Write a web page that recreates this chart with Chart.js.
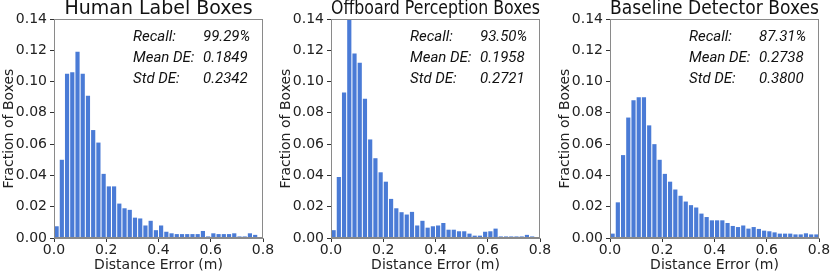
<!DOCTYPE html>
<html>
<head>
<meta charset="utf-8">
<script src="https://cdn.jsdelivr.net/npm/chart.js@4.4.0/dist/chart.umd.min.js"></script>
<style>
  html, body { margin: 0; padding: 0; background: #fff; }
  #wrap { position: relative; width: 831px; height: 275px; overflow: hidden; }
  .panel { position: absolute; top: 0; width: 277px; height: 275px; }
</style>
</head>
<body>
<div id="wrap">
  <div class="panel" style="left:0px"><canvas id="human" width="277" height="275"></canvas></div>
  <div class="panel" style="left:277px"><canvas id="offboard" width="277" height="275"></canvas></div>
  <div class="panel" style="left:556px"><canvas id="baseline" width="277" height="275"></canvas></div>
</div>
<script>
// histogram bin edges (m)
const binEdges = [0.00, 0.02, 0.04, 0.06, 0.08, 0.10, 0.12, 0.14, 0.16, 0.18,
  0.20, 0.22, 0.24, 0.26, 0.28, 0.30, 0.32, 0.34, 0.36, 0.38,
  0.40, 0.42, 0.44, 0.46, 0.48, 0.50, 0.52, 0.54, 0.56, 0.58,
  0.60, 0.62, 0.64, 0.66, 0.68, 0.70, 0.72, 0.74, 0.76, 0.78, 0.80];

const humanValues = [0.0075, 0.050, 0.105, 0.106, 0.119, 0.105, 0.091, 0.069, 0.061, 0.041,
  0.033, 0.033, 0.022, 0.019, 0.018, 0.013, 0.0125, 0.008, 0.011, 0.005,
  0.008, 0.004, 0.003, 0.0025, 0.0025, 0.0025, 0.0025, 0.0025, 0.0045, 0.001,
  0.003, 0.0025, 0.0025, 0.0025, 0.003, 0.001, 0.001, 0.003, 0.002, 0.0005];

const offboardValues = [0.005, 0.039, 0.093, 0.142, 0.118, 0.112, 0.089, 0.063, 0.051, 0.042,
  0.036, 0.025, 0.019, 0.0165, 0.015, 0.0167, 0.008, 0.011, 0.0066, 0.0075,
  0.008, 0.0096, 0.0053, 0.0053, 0.0043, 0.0043, 0.0028, 0.0015, 0.0015, 0.004,
  0.0043, 0.006, 0.001, 0.001, 0.001, 0.001, 0.001, 0.002, 0.001, 0.0005];

const baselineValues = [0.0028, 0.0228, 0.053, 0.077, 0.088, 0.090, 0.090, 0.072, 0.060, 0.050,
  0.041, 0.036, 0.031, 0.027, 0.0233, 0.021, 0.0195, 0.0156, 0.0134, 0.0113,
  0.0113, 0.0113, 0.0096, 0.0077, 0.007, 0.008, 0.006, 0.007, 0.0058, 0.0047,
  0.0043, 0.0036, 0.0028, 0.0028, 0.0028, 0.0023, 0.0023, 0.003, 0.0023, 0.0023];

const panelTitles = ['Human Label Boxes', 'Offboard Perception Boxes', 'Baseline Detector Boxes'];
const statLabels = ['Recall:', 'Mean DE:', 'Std DE:'];
const humanStats = ['99.29%', '0.1849', '0.2342'];
const offboardStats = ['93.50%', '0.1958', '0.2721'];
const baselineStats = ['87.31%', '0.2738', '0.3800'];

const xTicks = [0.0, 0.2, 0.4, 0.6, 0.8];
const yTicks = [0.00, 0.02, 0.04, 0.06, 0.08, 0.10, 0.12, 0.14];

const barColor = '#4a7bd6';
const frameColor = '#8a8a8a';

// box around plot + stats text block
const framePlugin = {
  id: 'frameAndStats',
  afterDatasetsDraw(chart, args, opts) {
    const { ctx, chartArea } = chart;
    ctx.save();
    ctx.strokeStyle = frameColor;
    ctx.lineWidth = 1;
    ctx.strokeRect(chartArea.left + 0.5, chartArea.top + 0.5,
      chartArea.right - chartArea.left - 1, chartArea.bottom - chartArea.top - 1);

    ctx.fillStyle = '#111';
    ctx.font = 'italic 15px Roboto';
    ctx.textBaseline = 'alphabetic';
    opts.stats.forEach((v, i) => {
      const y = chartArea.top + 22 + i * 21;
      ctx.fillText(statLabels[i], chartArea.left + 79, y);
      ctx.fillText(v, chartArea.left + 149, y);
    });
    ctx.restore();
  }
};

function makeChart(id, title, values, stats) {
  const points = values.map((v, i) => ({ x: (binEdges[i] + binEdges[i + 1]) / 2, y: v }));
  return new Chart(document.getElementById(id), {
    type: 'bar',
    data: {
      datasets: [{
        data: points,
        backgroundColor: barColor,
        borderWidth: 0,
        barPercentage: 0.8,
        categoryPercentage: 1.0
      }]
    },
    plugins: [framePlugin],
    options: {
      responsive: false,
      animation: false,
      devicePixelRatio: 1,
      layout: { padding: { left: 0, right: 14, top: 0, bottom: 0 } },
      plugins: {
        legend: { display: false },
        tooltip: { enabled: false },
        title: {
          display: true,
          text: title,
          fullSize: false,
          color: '#111',
          font: { family: 'DejaVu Sans', size: 19, weight: 'normal', lineHeight: 1.0 },
          padding: { top: 0, bottom: 0 }
        },
        frameAndStats: { stats: stats }
      },
      scales: {
        x: {
          type: 'linear',
          offset: false,
          min: 0,
          max: 0.8,
          afterBuildTicks(scale) { scale.ticks = xTicks.map(v => ({ value: v })); },
          afterFit(scale) { scale.height = 37; },
          ticks: {
            autoSkip: false,
            color: '#222',
            font: { family: 'DejaVu Sans', size: 14 },
            padding: 0,
            maxRotation: 0,
            callback: v => v.toFixed(1)
          },
          grid: { display: true, drawOnChartArea: false, drawTicks: true, tickLength: 4, color: '#333', offset: false },
          border: { display: true, color: frameColor },
          title: {
            display: true,
            text: 'Distance Error (m)',
            color: '#222',
            font: { family: 'DejaVu Sans', size: 14 },
            padding: { top: 0, bottom: 1 }
          }
        },
        y: {
          min: 0,
          max: 0.14,
          afterBuildTicks(scale) { scale.ticks = yTicks.map(v => ({ value: v })); },
          afterFit(scale) { scale.width = 54; },
          ticks: {
            autoSkip: false,
            color: '#222',
            font: { family: 'DejaVu Sans', size: 14 },
            padding: 3,
            callback: v => v.toFixed(2)
          },
          grid: { display: true, drawOnChartArea: false, drawTicks: true, tickLength: 4, color: '#333' },
          border: { display: true, color: frameColor },
          title: {
            display: true,
            text: 'Fraction of Boxes',
            color: '#222',
            font: { family: 'DejaVu Sans', size: 14 },
            padding: { top: 1, bottom: 0 }
          }
        }
      }
    }
  });
}

makeChart('human', panelTitles[0], humanValues, humanStats);
makeChart('offboard', panelTitles[1], offboardValues, offboardStats);
makeChart('baseline', panelTitles[2], baselineValues, baselineStats);
</script>
</body>
</html>
